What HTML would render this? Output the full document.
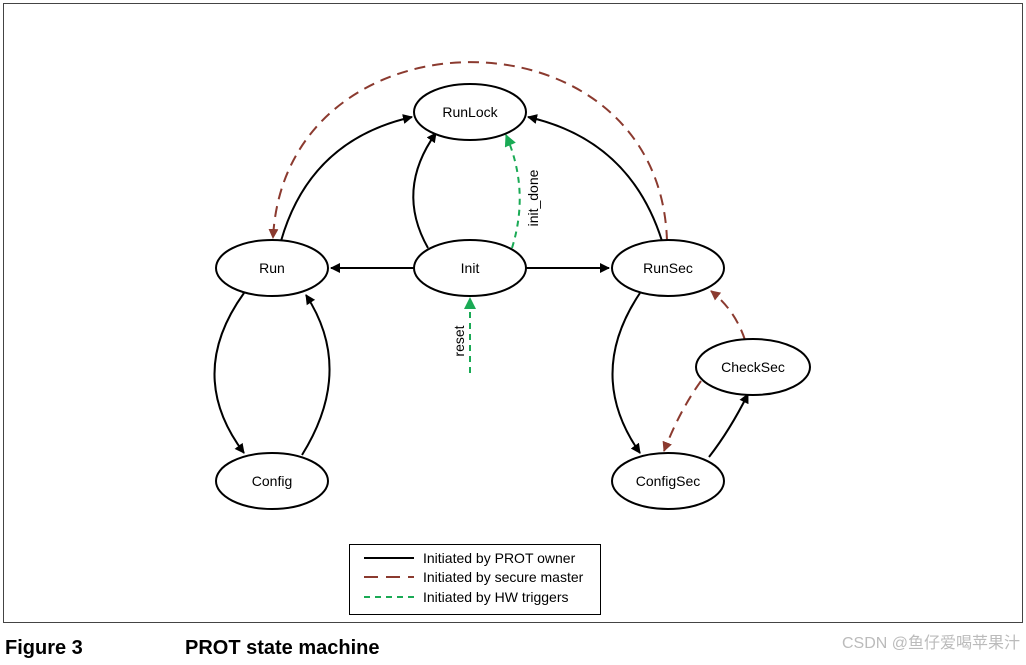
<!DOCTYPE html>
<html><head><style>
body{margin:0;background:#fff;width:1026px;height:660px;overflow:hidden;font-family:"Liberation Sans",sans-serif}
</style></head><body>
<svg width="1026" height="660" xmlns="http://www.w3.org/2000/svg" font-family="Liberation Sans, sans-serif">
<defs>
<marker id="ab" markerWidth="10" markerHeight="10" refX="9" refY="5" orient="auto" markerUnits="userSpaceOnUse"><path d="M0,0 L10,5 L0,10 z" fill="#000"/></marker>
<marker id="ar" markerWidth="10" markerHeight="10" refX="9" refY="5" orient="auto" markerUnits="userSpaceOnUse"><path d="M0,0 L10,5 L0,10 z" fill="#8b3a2f"/></marker>
<marker id="ag" markerWidth="12" markerHeight="12" refX="11" refY="6" orient="auto" markerUnits="userSpaceOnUse"><path d="M0,0 L12,6 L0,12 z" fill="#1aaa55"/></marker>
</defs>
<rect x="3.5" y="3.5" width="1019" height="619" fill="none" stroke="#444" stroke-width="1"/>
<g fill="none" stroke-width="2">
<path d="M281,241 Q310,140 412,117" stroke="#000" marker-end="url(#ab)"/>
<path d="M428,248 Q395,190 436,133" stroke="#000" marker-end="url(#ab)"/>
<path d="M662,241 Q630,140 528,117" stroke="#000" marker-end="url(#ab)"/>
<path d="M667,241 C660,3 285,3 273,238" stroke="#8b3a2f" stroke-dasharray="11,7" marker-end="url(#ar)"/>
<path d="M512,248 Q530,190 506,135" stroke="#1aaa55" stroke-dasharray="6,5" marker-end="url(#ag)"/>
<path d="M414,268 L331,268" stroke="#000" marker-end="url(#ab)"/>
<path d="M526,268 L609,268" stroke="#000" marker-end="url(#ab)"/>
<path d="M470,373 L470,298" stroke="#1aaa55" stroke-dasharray="6,5" marker-end="url(#ag)"/>
<path d="M244,293 Q185,375 244,453" stroke="#000" marker-end="url(#ab)"/>
<path d="M302,455 Q355,370 306,295" stroke="#000" marker-end="url(#ab)"/>
<path d="M640,293 Q585,375 640,453" stroke="#000" marker-end="url(#ab)"/>
<path d="M709,457 Q730,430 748,394" stroke="#000" marker-end="url(#ab)"/>
<path d="M701,381 Q680,410 664,451" stroke="#8b3a2f" stroke-dasharray="11,7" marker-end="url(#ar)"/>
<path d="M745,340 Q735,310 711,291" stroke="#8b3a2f" stroke-dasharray="11,7" marker-end="url(#ar)"/>
</g>
<g fill="#fff" stroke="#000" stroke-width="2">
<ellipse cx="470" cy="112" rx="56" ry="28"/>
<ellipse cx="272" cy="268" rx="56" ry="28"/>
<ellipse cx="470" cy="268" rx="56" ry="28"/>
<ellipse cx="668" cy="268" rx="56" ry="28"/>
<ellipse cx="753" cy="367" rx="57" ry="28"/>
<ellipse cx="272" cy="481" rx="56" ry="28"/>
<ellipse cx="668" cy="481" rx="56" ry="28"/>
</g>
<g font-size="14" text-anchor="middle" fill="#000">
<text x="470" y="117">RunLock</text>
<text x="272" y="273">Run</text>
<text x="470" y="273">Init</text>
<text x="668" y="273">RunSec</text>
<text x="753" y="372">CheckSec</text>
<text x="272" y="486">Config</text>
<text x="668" y="486">ConfigSec</text>
<text transform="translate(538,198) rotate(-90)">init_done</text>
<text transform="translate(464,341) rotate(-90)">reset</text>
</g>
<rect x="349.5" y="544.5" width="251" height="70" fill="none" stroke="#000" stroke-width="1"/>
<g stroke-width="2">
<line x1="364" y1="558" x2="414" y2="558" stroke="#000"/>
<line x1="364" y1="577" x2="414" y2="577" stroke="#8b3a2f" stroke-dasharray="14,8"/>
<line x1="364" y1="597" x2="414" y2="597" stroke="#1aaa55" stroke-dasharray="6,5"/>
</g>
<g font-size="14" fill="#000">
<text x="423" y="563">Initiated by PROT owner</text>
<text x="423" y="582">Initiated by secure master</text>
<text x="423" y="602">Initiated by HW triggers</text>
</g>
<g font-size="20" font-weight="bold" fill="#000">
<text x="5" y="654">Figure 3</text>
<text x="185" y="654">PROT state machine</text>
</g>
<text x="1020" y="648" font-size="16" fill="#bbb" text-anchor="end" font-family="Liberation Sans, Noto Sans CJK SC, sans-serif">CSDN @鱼仔爱喝苹果汁</text>
</svg>
</body></html>
